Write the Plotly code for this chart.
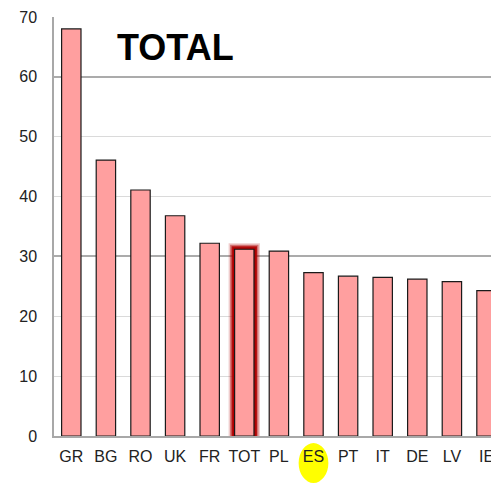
import plotly.graph_objects as go

categories = ["GR", "BG", "RO", "UK", "FR", "TOT", "PL", "ES", "PT", "IT", "DE", "LV", "IE"]
values = [68.0, 46.1, 41.1, 36.8, 32.2, 31.2, 30.9, 27.3, 26.7, 26.5, 26.2, 25.8, 24.3]
highlight_bar = "TOT"
highlight_label = "ES"
title_text = "TOTAL"
y_ticks = [0, 10, 20, 30, 40, 50, 60, 70]
major_grid = [30, 60, 70]

W, H = 491, 483
PX_X = 34.6      # pixels per category
PX_Y = 419 / 70  # pixels per unit
BAR_W = 0.56
idx = {c: i for i, c in enumerate(categories)}

fig = go.Figure()

# glow behind highlighted bar: progressively wider/taller translucent dark red bars
hv = values[idx[highlight_bar]]
for px, a in [(6, 0.2), (4.5, 0.45), (3, 0.85), (1.8, 1.0)]:
    fig.add_trace(go.Bar(
        x=[highlight_bar], y=[hv + px / PX_Y], width=BAR_W + 2 * px / PX_X,
        marker=dict(color=f"rgba(176,0,0,{a})", line=dict(width=0)),
        hoverinfo="skip", showlegend=False,
    ))

fig.add_trace(go.Bar(
    x=categories, y=values, width=BAR_W,
    marker=dict(color="#ff9f9f", line=dict(color="#1a1a1a", width=1.2)),
    showlegend=False,
))

# invisible trace for secondary axis (major grid lines)
fig.add_trace(go.Scatter(x=[categories[0]], y=[0], yaxis="y2", mode="markers",
                         marker=dict(opacity=0), hoverinfo="skip", showlegend=False))

i_es = idx[highlight_label]
fig.add_shape(type="circle", xref="x", yref="paper",
              x0=i_es - 0.43, x1=i_es + 0.43, y0=-0.017, y1=-0.112,
              fillcolor="#ffff00", line=dict(width=0), layer="below")

fig.add_annotation(text=f"<b>{title_text}</b>", xref="paper", yref="paper",
                   x=(175 - 54) / (W - 54), y=1 - (47 - 17) / (436 - 17),
                   xanchor="center", yanchor="middle", showarrow=False,
                   font=dict(size=36, color="#000000", family="Liberation Sans, Arial, sans-serif"))

fig.update_layout(
    width=W, height=H,
    margin=dict(l=54, r=0, t=17, b=47),
    paper_bgcolor="white", plot_bgcolor="white",
    barmode="overlay",
    font=dict(family="Liberation Sans, Arial, sans-serif", size=16, color="#222222"),
    xaxis=dict(
        type="category", categoryorder="array", categoryarray=categories,
        range=[-0.5, 12.13], automargin=False,
        showgrid=False, showline=True, linecolor="#a8a8a8", linewidth=1.5,
        ticks="", ticklabelstandoff=5, tickfont=dict(size=16, color="#222222"),
    ),
    yaxis=dict(
        range=[0, 70], tickvals=y_ticks, automargin=False,
        showgrid=True, gridcolor="#dadada", gridwidth=1,
        showline=True, linecolor="#a8a8a8", linewidth=1.5,
        zeroline=False, ticks="", ticklabelstandoff=12,
        tickfont=dict(size=16, color="#222222"),
    ),
    yaxis2=dict(
        range=[0, 70], tickvals=major_grid, overlaying="y", automargin=False,
        showgrid=True, gridcolor="#ababab", gridwidth=1.5,
        showticklabels=False, zeroline=False, showline=False,
    ),
)

fig.write_html("out.html", config={"displayModeBar": False},
               post_script="document.body.style.margin='0px';")
